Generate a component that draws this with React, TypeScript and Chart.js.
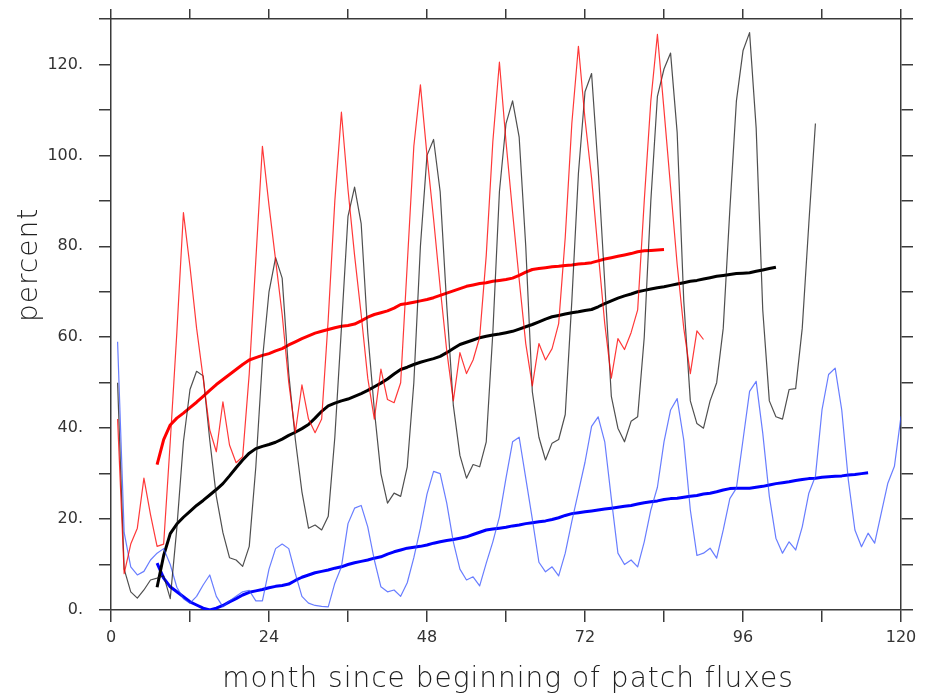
import React, { useEffect, useRef } from 'react';
import { Chart, registerables } from 'chart.js';

Chart.register(...registerables);

// ---- data (percent, by month since beginning of patch fluxes) ----
const redThinStart = 1;
const redThin = [
  42, 8, 14.5, 18, 29, 21, 14, 14.5, 37, 61, 87.4,
  75.5, 62, 51, 39.6, 34.8, 45.8, 36.3, 32.4, 33.7, 52, 77, 102,
  89, 77, 65, 50, 39, 49.5, 42, 39, 42, 64, 90, 109.5,
  92.5, 78, 65, 51, 42, 53, 46.3, 45.6, 50, 76, 102, 115.5,
  100, 86, 71, 57, 46, 56.6, 52, 55, 60, 78, 103, 120.5,
  103, 87.5, 72.7, 58.6, 49.3, 58.6, 55, 57.5, 63, 82, 107, 124,
  108, 95, 78.7, 63, 51, 59.7, 57.3, 61, 66, 90, 112, 126.6,
  110, 93, 76, 62, 52, 61.4, 59.5,
];

const blackThinStart = 1;
const blackThin = [
  50, 9, 4, 2.6, 4.4, 6.6, 7, 7.5, 2.5, 18, 37, 48.5,
  52.5, 51.5, 37.4, 25, 17, 11.5, 11, 9.6, 14, 31.5, 55, 70,
  77.5, 73, 52, 37.5, 26, 18, 18.7, 17.6, 20.6, 38, 62, 86.6,
  93, 85, 61, 44, 30, 23.5, 25.7, 25, 31.5, 50, 80, 100,
  103.5, 92, 67, 45, 34, 29, 32, 31.5, 37, 61, 92, 107,
  112, 104, 80, 48, 38, 33, 36.7, 37.5, 43, 68, 96, 114,
  118, 97, 72, 47, 40, 37, 41.5, 42.5, 60, 90, 113, 119,
  122.5, 105, 68, 46, 41, 40, 46, 50, 62, 88, 112, 123,
  127, 106, 66, 46, 42.5, 42, 48.5, 48.7, 62, 85, 107,
];

const blueThinStart = 1;
const blueThin = [
  59, 17, 9.5, 7.7, 8.5, 11, 12.5, 13.5, 10, 5, 2.5, 1.5,
  3, 5.5, 7.7, 3, 0.7, 2, 3, 4, 4.3, 2, 2, 9,
  13.5, 14.5, 13.5, 8, 3, 1.5, 1, 0.8, 0.7, 5.9, 9.5, 19,
  22.4, 23, 18.3, 11, 5.1, 4, 4.4, 3, 6, 11.5, 18, 25.5,
  30.5, 30, 23.5, 15, 9, 6.6, 7.3, 5.3, 10.3, 15, 20.5, 29,
  37, 38, 29, 20, 10.5, 8.4, 9.5, 7.5, 12.5, 19.5, 26, 32.5,
  40.4, 42.5, 37, 24.5, 12.5, 10, 11, 9.5, 15, 22, 27, 37,
  44, 46.5, 37.4, 22, 12, 12.5, 13.6, 11.4, 17.6, 24.5, 26.8, 37.4,
  48.1, 50.3, 38.9, 25, 15.8, 12.5, 15, 13.2, 18.3, 25.7, 29.4, 44,
  51.8, 53.2, 44, 28.6, 17.6, 13.9, 16.9, 14.7, 21.3, 27.9, 31.6, 42.6,
];

const redThickStart = 7;
const redThick = [
  32, 37.5, 40.7, 42.2, 43.3, 44.5, 45.7, 47, 48.3, 49.6, 50.7, 51.8,
  52.9, 54, 55, 55.5, 56, 56.4, 57, 57.5, 58.3, 59, 59.7, 60.3,
  60.9, 61.3, 61.7, 62.1, 62.4, 62.6, 62.9, 63.6, 64.4, 65, 65.4, 65.8,
  66.4, 67.2, 67.4, 67.7, 68, 68.3, 68.7, 69.2, 69.7, 70.2, 70.7, 71.2,
  71.5, 71.8, 72, 72.3, 72.5, 72.7, 73, 73.6, 74.3, 74.9, 75.1, 75.3,
  75.5, 75.6, 75.8, 75.9, 76.1, 76.2, 76.4, 76.8, 77.2, 77.5, 77.8, 78.1,
  78.4, 78.8, 79, 79.1, 79.2, 79.3,
];

const blackThickStart = 7;
const blackThick = [
  5, 12, 16.8, 18.9, 20.4, 21.7, 23, 24.1, 25.3, 26.5, 27.8, 29.5,
  31.3, 33, 34.5, 35.5, 36, 36.4, 36.9, 37.6, 38.4, 39.1, 39.9, 40.8,
  42.2, 43.7, 44.9, 45.5, 46, 46.4, 47, 47.6, 48.3, 49.1, 49.9, 50.8,
  51.9, 52.9, 53.4, 54, 54.5, 54.9, 55.3, 55.8, 56.6, 57.5, 58.4, 58.9,
  59.4, 59.9, 60.2, 60.5, 60.7, 61, 61.3, 61.8, 62.3, 62.8, 63.4, 64,
  64.5, 64.8, 65.1, 65.4, 65.6, 65.9, 66.1, 66.7, 67.4, 68, 68.6, 69.1,
  69.5, 70, 70.3, 70.6, 70.9, 71.1, 71.4, 71.7, 72, 72.3, 72.5, 72.8,
  73.1, 73.4, 73.6, 73.8, 74, 74.1, 74.2, 74.5, 74.8, 75.1, 75.4,
];

const blueThickStart = 7;
const blueThick = [
  10.3, 7, 5.1, 4, 2.9, 1.8, 1.1, 0.4, 0, 0.4, 1, 1.8,
  2.5, 3.3, 3.9, 4.2, 4.5, 4.9, 5.2, 5.4, 5.7, 6.5, 7.2, 7.7,
  8.2, 8.5, 8.8, 9.2, 9.5, 10, 10.4, 10.7, 11, 11.4, 11.7, 12.3,
  12.8, 13.2, 13.6, 13.8, 14, 14.3, 14.7, 15, 15.3, 15.5, 15.8, 16.1,
  16.6, 17.1, 17.6, 17.8, 18, 18.2, 18.5, 18.7, 19, 19.2, 19.4, 19.6,
  19.9, 20.3, 20.8, 21.2, 21.4, 21.6, 21.8, 22, 22.2, 22.4, 22.6, 22.8,
  23, 23.3, 23.6, 23.8, 24, 24.3, 24.5, 24.6, 24.8, 25, 25.2, 25.5,
  25.7, 26, 26.4, 26.7, 26.8, 26.8, 26.8, 27, 27.2, 27.5, 27.8, 28,
  28.2, 28.5, 28.7, 28.9, 29, 29.2, 29.3, 29.4, 29.5, 29.7, 29.8, 30, 30.2,
];

const xMin = 0;
const xMax = 120;
const xStep = 12;
const xLabelEvery = 24;
const yMin = 0;
const yMax = 130;
const yStep = 10;
const yLabelEvery = 20;
const xTitle = 'month since beginning of patch fluxes';
const yTitle = 'percent';

function toPoints(values: number[], start: number) {
  return values.map((y, i) => ({ x: start + i, y }));
}

const AXIS_COLOR = '#3a3a3a';
const TEXT_COLOR = '#333333';
const TITLE_COLOR = '#202020';
const FONT = "'DejaVu Sans', sans-serif";

const titlePlugin = {
  id: 'axisTitles',
  afterDraw(chart: any) {
    const { ctx, chartArea } = chart;
    ctx.save();
    ctx.fillStyle = TITLE_COLOR;
    ctx.font = `300 28px ${FONT}`;
    try { (ctx as any).letterSpacing = '1px'; } catch (e) { /* ignore */ }
    ctx.textAlign = 'center';
    ctx.textBaseline = 'middle';
    ctx.fillText(xTitle, (chartArea.left + chartArea.right) / 2 + 2, 680);
    ctx.translate(30, 265);
    ctx.rotate(-Math.PI / 2);
    ctx.fillText(yTitle, 0, 0);
    ctx.restore();
  },
};

function zeroPad(s: any) {
  s.paddingTop = 0;
  s.paddingBottom = 0;
  s.paddingLeft = 0;
  s.paddingRight = 0;
}

function axisCommon(extra: any) {
  return {
    type: 'linear',
    grid: {
      drawOnChartArea: false,
      drawTicks: true,
      tickLength: 12,
      color: AXIS_COLOR,
      lineWidth: 1.5,
    },
    border: { display: true, color: AXIS_COLOR, width: 1.5 },
    ...extra,
  };
}

export default function App() {
  const ref = useRef<HTMLCanvasElement | null>(null);

  useEffect(() => {
    const canvas = ref.current;
    if (!canvas) return;
    const thin = 1.2;
    const thick = 3;
    const chart = new Chart(canvas, {
      type: 'line',
      data: {
        datasets: [
          { label: 'red', data: toPoints(redThin, redThinStart), borderColor: 'rgba(255,0,0,0.78)', borderWidth: thin },
          { label: 'black', data: toPoints(blackThin, blackThinStart), borderColor: 'rgba(20,20,20,0.75)', borderWidth: thin },
          { label: 'blue', data: toPoints(blueThin, blueThinStart), borderColor: 'rgba(40,70,255,0.7)', borderWidth: thin },
          { label: 'red mean', data: toPoints(redThick, redThickStart), borderColor: '#ff0000', borderWidth: thick },
          { label: 'black mean', data: toPoints(blackThick, blackThickStart), borderColor: '#000000', borderWidth: thick },
          { label: 'blue mean', data: toPoints(blueThick, blueThickStart), borderColor: '#0000ff', borderWidth: thick },
        ].map((d) => ({ ...d, pointRadius: 0, tension: 0, fill: false, borderJoinStyle: 'round' as const })),
      },
      options: {
        animation: false,
        responsive: false,
        maintainAspectRatio: false,
        layout: { padding: 0 },
        plugins: { legend: { display: false }, tooltip: { enabled: false }, title: { display: false } },
        scales: {
          x: axisCommon({
            position: 'bottom',
            min: xMin,
            max: xMax,
            ticks: {
              stepSize: xStep,
              autoSkip: false,
              maxRotation: 0,
              padding: 6,
              color: TEXT_COLOR,
              font: { family: FONT, size: 16 },
              callback: (v: any) => (Number(v) % xLabelEvery === 0 ? String(v) : ''),
            },
            afterFit: (s: any) => { s.height = 86; zeroPad(s); },
          }),
          x2: axisCommon({
            position: 'top',
            min: xMin,
            max: xMax,
            grid: { drawOnChartArea: false, drawTicks: true, tickLength: 10, color: AXIS_COLOR, lineWidth: 1.5 },
            ticks: { stepSize: xStep, autoSkip: false, maxRotation: 0, callback: () => '' },
            afterFit: (s: any) => { s.height = 19; zeroPad(s); },
          }),
          y: axisCommon({
            position: 'left',
            min: yMin,
            max: yMax,
            ticks: {
              stepSize: yStep,
              autoSkip: false,
              padding: 16,
              color: TEXT_COLOR,
              font: { family: FONT, size: 16 },
              callback: (v: any) => (Number(v) % yLabelEvery === 0 ? `${v}.` : ''),
            },
            afterFit: (s: any) => { s.width = 111; zeroPad(s); },
          }),
          y2: axisCommon({
            position: 'right',
            min: yMin,
            max: yMax,
            ticks: { stepSize: yStep, autoSkip: false, callback: () => '' },
            afterFit: (s: any) => { s.width = 27; zeroPad(s); },
          }),
        },
      } as any,
      plugins: [titlePlugin],
    });
    return () => chart.destroy();
  }, []);

  return (
    <div style={{ position: 'fixed', left: 0, top: 0, width: 928, height: 696, background: '#fff' }}>
      <canvas ref={ref} width={928} height={696} style={{ width: 928, height: 696, display: 'block' }} />
    </div>
  );
}
